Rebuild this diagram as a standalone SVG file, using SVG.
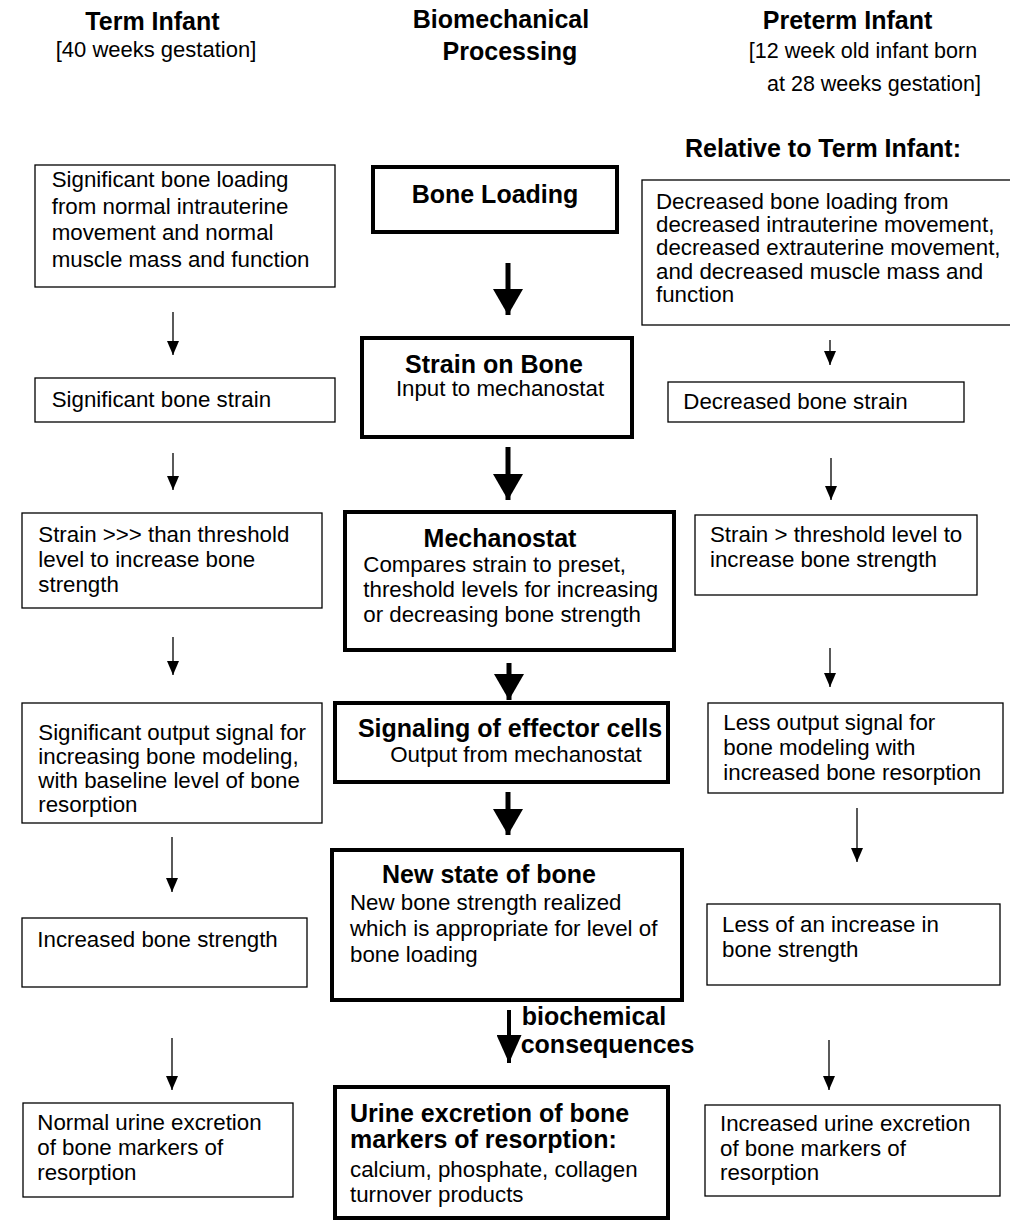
<svg xmlns="http://www.w3.org/2000/svg" width="1010" height="1221" viewBox="0 0 1010 1221">
<style>
.box{fill:#fff;stroke:#000;stroke-width:1.3}
.tbox{fill:#fff;stroke:#000;stroke-width:4}
.t{font-family:"Liberation Sans",Arial,sans-serif;font-size:22.3px;fill:#000}
.b{font-family:"Liberation Sans",Arial,sans-serif;font-size:25px;font-weight:bold;fill:#000}
.h{font-family:"Liberation Sans",Arial,sans-serif;font-size:22px;fill:#000}
.mid{text-anchor:middle}
.thin{stroke:#000;stroke-width:1.3;fill:none}
.thick{stroke:#000;stroke-width:5;fill:none}
.med{stroke:#000;stroke-width:4;fill:none}
</style>
<defs>
<marker id="sm" viewBox="0 0 14 12" refX="14" refY="6" markerWidth="14" markerHeight="12" markerUnits="userSpaceOnUse" orient="auto"><path d="M0,0 L14,6 L0,12 z" fill="#000"/></marker>
<marker id="lg" viewBox="0 0 26 30" refX="26" refY="15" markerWidth="26" markerHeight="30" markerUnits="userSpaceOnUse" orient="auto"><path d="M0,0 L26,15 L0,30 z" fill="#000"/></marker>
<marker id="md" viewBox="0 0 28 25" refX="28" refY="12.5" markerWidth="28" markerHeight="25" markerUnits="userSpaceOnUse" orient="auto"><path d="M0,0 L28,12.5 L0,25 z" fill="#000"/></marker>
</defs>
<rect width="1010" height="1221" fill="#fff"/>

<g id="headers">
<text class="b mid" x="152.5" y="30">Term Infant</text>
<text class="h mid" x="156" y="57">[40 weeks gestation]</text>
<text class="b mid" x="501" y="28">Biomechanical</text>
<text class="b mid" x="510" y="60">Processing</text>
<text class="b mid" x="847.5" y="29">Preterm Infant</text>
<text class="h mid" x="863" y="58" style="font-size:21.5px">[12 week old infant born</text>
<text class="h mid" x="874" y="91" style="font-size:21.5px">at 28 weeks gestation]</text>
<text class="b" x="685" y="157">Relative to Term Infant:</text>
</g>

<g id="connectors">
<line class="thin" x1="173" y1="312" x2="173" y2="355" marker-end="url(#sm)"/>
<line class="thin" x1="173" y1="453" x2="173" y2="490" marker-end="url(#sm)"/>
<line class="thin" x1="173" y1="637" x2="173" y2="675" marker-end="url(#sm)"/>
<line class="thin" x1="172" y1="837" x2="172" y2="892" marker-end="url(#sm)"/>
<line class="thin" x1="172" y1="1038" x2="172" y2="1090" marker-end="url(#sm)"/>
<line class="thin" x1="830" y1="340" x2="830" y2="365" marker-end="url(#sm)"/>
<line class="thin" x1="831" y1="458" x2="831" y2="500" marker-end="url(#sm)"/>
<line class="thin" x1="830" y1="648" x2="830" y2="687" marker-end="url(#sm)"/>
<line class="thin" x1="857" y1="808" x2="857" y2="862" marker-end="url(#sm)"/>
<line class="thin" x1="829" y1="1040" x2="829" y2="1090" marker-end="url(#sm)"/>
<line class="thick" x1="508" y1="263" x2="508" y2="315" marker-end="url(#lg)"/>
<line class="thick" x1="508" y1="447" x2="508" y2="500" marker-end="url(#lg)"/>
<line class="thick" x1="509" y1="663" x2="509" y2="700" marker-end="url(#lg)"/>
<line class="thick" x1="508" y1="792" x2="508" y2="835" marker-end="url(#lg)"/>
<line class="med" x1="509" y1="1010" x2="509" y2="1063" marker-end="url(#md)"/>
<text class="b" x="521.7" y="1025">biochemical</text>
<text class="b" x="520.7" y="1053">consequences</text>
</g>

<g id="term-loading">
<rect class="box" x="35" y="165" width="300" height="122"/>
<text class="t">
<tspan x="51.7" y="187">Significant bone loading</tspan>
<tspan x="51.7" y="213.5">from normal intrauterine</tspan>
<tspan x="51.7" y="240">movement and normal</tspan>
<tspan x="51.7" y="266.5">muscle mass and function</tspan>
</text>
</g>

<g id="term-strain">
<rect class="box" x="35" y="378" width="300" height="44"/>
<text class="t" x="51.7" y="407">Significant bone strain</text>
</g>

<g id="term-threshold">
<rect class="box" x="22" y="513" width="300" height="95"/>
<text class="t">
<tspan x="38.3" y="542">Strain &gt;&gt;&gt; than threshold</tspan>
<tspan x="38.3" y="567">level to increase bone</tspan>
<tspan x="38.3" y="592">strength</tspan>
</text>
</g>

<g id="term-signal">
<rect class="box" x="22" y="703" width="300" height="120"/>
<text class="t">
<tspan x="38.3" y="740">Significant output signal for</tspan>
<tspan x="38.3" y="764">increasing  bone modeling,</tspan>
<tspan x="38.3" y="788">with baseline level of  bone</tspan>
<tspan x="38.3" y="812">resorption</tspan>
</text>
</g>

<g id="term-strength">
<rect class="box" x="22" y="918" width="285" height="69"/>
<text class="t" x="37.3" y="947">Increased bone strength</text>
</g>

<g id="term-urine">
<rect class="box" x="23" y="1103" width="270" height="94"/>
<text class="t">
<tspan x="37.3" y="1130">Normal  urine excretion</tspan>
<tspan x="37.3" y="1155">of bone markers of</tspan>
<tspan x="37.3" y="1180">resorption</tspan>
</text>
</g>

<g id="bone-loading">
<rect class="tbox" x="373" y="167" width="244" height="65"/>
<text class="b mid" x="495" y="203">Bone Loading</text>
</g>

<g id="strain-on-bone">
<rect class="tbox" x="362" y="338" width="270" height="99"/>
<text class="b mid" x="494" y="373">Strain on Bone</text>
<text class="t mid" x="500" y="396">Input to mechanostat</text>
</g>

<g id="mechanostat">
<rect class="tbox" x="345" y="512" width="329" height="138"/>
<text class="b mid" x="500" y="547">Mechanostat</text>
<text class="t">
<tspan x="363.3" y="572">Compares strain to preset,</tspan>
<tspan x="363.3" y="597">threshold levels for increasing</tspan>
<tspan x="363.3" y="622">or decreasing bone  strength</tspan>
</text>
</g>

<g id="signaling">
<rect class="tbox" x="335" y="703" width="333" height="79"/>
<text class="b mid" x="510" y="737">Signaling of effector cells</text>
<text class="t mid" x="516" y="762">Output from mechanostat</text>
</g>

<g id="new-state">
<rect class="tbox" x="332" y="850" width="350" height="150"/>
<text class="b mid" x="489" y="883">New state of bone</text>
<text class="t">
<tspan x="350" y="910">New bone strength realized</tspan>
<tspan x="350" y="936">which is appropriate for level of</tspan>
<tspan x="350" y="962">bone loading</tspan>
</text>
</g>

<g id="urine-excretion">
<rect class="tbox" x="335" y="1087" width="333" height="131"/>
<text class="b">
<tspan x="350" y="1122">Urine excretion of  bone</tspan>
<tspan x="350" y="1148">markers of resorption:</tspan>
</text>
<text class="t">
<tspan x="350" y="1177">calcium, phosphate, collagen</tspan>
<tspan x="350" y="1202">turnover products</tspan>
</text>
</g>

<g id="preterm-loading">
<rect class="box" x="642" y="180" width="375" height="145"/>
<text class="t">
<tspan x="656" y="208.5">Decreased bone loading from</tspan>
<tspan x="656" y="232">decreased intrauterine movement,</tspan>
<tspan x="656" y="255">decreased extrauterine movement,</tspan>
<tspan x="656" y="278.5">and decreased muscle mass and</tspan>
<tspan x="656" y="302">function</tspan>
</text>
</g>

<g id="preterm-strain">
<rect class="box" x="668" y="382" width="296" height="40"/>
<text class="t" x="683.3" y="408.5">Decreased bone strain</text>
</g>

<g id="preterm-threshold">
<rect class="box" x="695" y="515" width="282" height="80"/>
<text class="t">
<tspan x="710" y="542">Strain &gt; threshold level to</tspan>
<tspan x="710" y="567">increase bone strength</tspan>
</text>
</g>

<g id="preterm-signal">
<rect class="box" x="708" y="703" width="295" height="90"/>
<text class="t">
<tspan x="723.3" y="730">Less output signal for</tspan>
<tspan x="723.3" y="755">bone modeling with</tspan>
<tspan x="723.3" y="780">increased  bone resorption</tspan>
</text>
</g>

<g id="preterm-strength">
<rect class="box" x="707" y="904" width="293" height="81"/>
<text class="t">
<tspan x="722" y="932">Less of an increase in</tspan>
<tspan x="722" y="957">bone strength</tspan>
</text>
</g>

<g id="preterm-urine">
<rect class="box" x="705" y="1105" width="295" height="91"/>
<text class="t">
<tspan x="720" y="1131">Increased urine excretion</tspan>
<tspan x="720" y="1156">of bone markers of</tspan>
<tspan x="720" y="1180">resorption</tspan>
</text>
</g>
</svg>
